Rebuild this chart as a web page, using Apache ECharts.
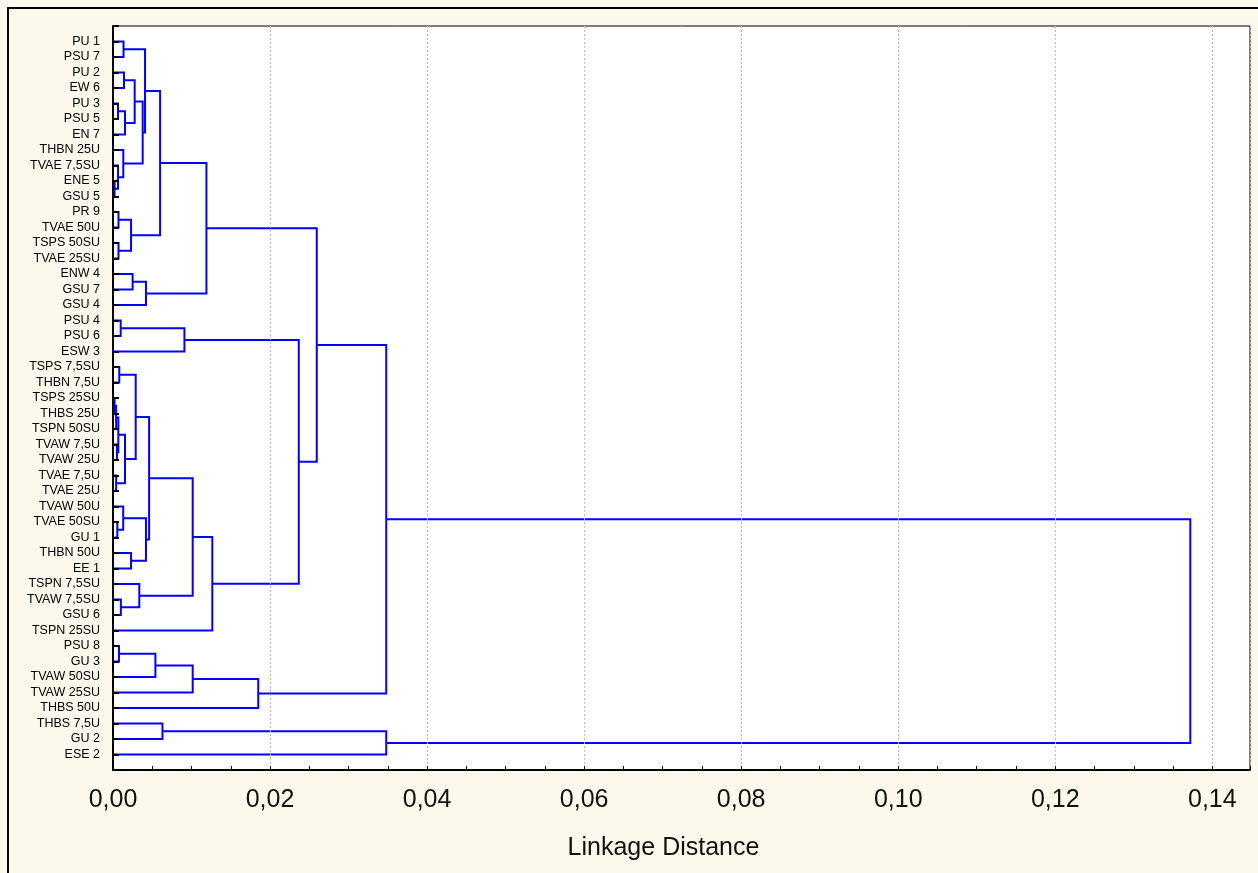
<!DOCTYPE html>
<html>
<head>
<meta charset="utf-8">
<script src="https://cdn.jsdelivr.net/npm/echarts@6/dist/echarts.min.js"></script>
<style>
  html, body { margin: 0; padding: 0; background: #fdf8ec; }
  #chart { width: 1258px; height: 873px; }
</style>
</head>
<body>
<div id="chart"></div>
<script>
// leaves, top to bottom
const leafLabels = [
  'PU 1', 'PSU 7', 'PU 2', 'EW 6', 'PU 3', 'PSU 5', 'EN 7', 'THBN 25U',
  'TVAE 7,5SU', 'ENE 5', 'GSU 5', 'PR 9', 'TVAE 50U', 'TSPS 50SU', 'TVAE 25SU',
  'ENW 4', 'GSU 7', 'GSU 4', 'PSU 4', 'PSU 6', 'ESW 3', 'TSPS 7,5SU',
  'THBN 7,5U', 'TSPS 25SU', 'THBS 25U', 'TSPN 50SU', 'TVAW 7,5U', 'TVAW 25U',
  'TVAE 7,5U', 'TVAE 25U', 'TVAW 50U', 'TVAE 50SU', 'GU 1', 'THBN 50U', 'EE 1',
  'TSPN 7,5SU', 'TVAW 7,5SU', 'GSU 6', 'TSPN 25SU', 'PSU 8', 'GU 3',
  'TVAW 50SU', 'TVAW 25SU', 'THBS 50U', 'THBS 7,5U', 'GU 2', 'ESE 2'
]

// [child a, child b, linkage distance]; new node ids start at 47
const merges = [
  [0, 1, 0.00134],   // 47
  [2, 3, 0.0014],    // 48
  [4, 5, 0.00064],   // 49
  [49, 6, 0.00153],  // 50
  [48, 50, 0.00276], // 51
  [9, 10, 0.0002],   // 52
  [8, 52, 0.00064],  // 53
  [7, 53, 0.00131],  // 54
  [51, 54, 0.00378], // 55
  [47, 55, 0.00408], // 56
  [11, 12, 0.0007],  // 57
  [13, 14, 0.0007],  // 58
  [57, 58, 0.0023],  // 59
  [56, 59, 0.006],   // 60
  [15, 16, 0.0025],  // 61
  [61, 17, 0.0042],  // 62
  [60, 62, 0.0119],  // 63
  [18, 19, 0.00098], // 64
  [64, 20, 0.0091],  // 65
  [21, 22, 0.0008],  // 66
  [23, 24, 0.0002],  // 67
  [67, 25, 0.0004],  // 68
  [26, 27, 0.0005],  // 69
  [68, 69, 0.00068], // 70
  [28, 29, 0.0004],  // 71
  [70, 71, 0.00153], // 72
  [66, 72, 0.00289], // 73
  [31, 32, 0.00055], // 74
  [30, 74, 0.0013],  // 75
  [33, 34, 0.0023],  // 76
  [75, 76, 0.0042],  // 77
  [73, 77, 0.0046],  // 78
  [36, 37, 0.001],   // 79
  [35, 79, 0.00335], // 80
  [78, 80, 0.01015], // 81
  [81, 38, 0.01265], // 82
  [65, 82, 0.02366], // 83
  [63, 83, 0.02595], // 84
  [39, 40, 0.00076], // 85
  [85, 41, 0.0054],  // 86
  [86, 42, 0.01015], // 87
  [87, 43, 0.0185],  // 88
  [84, 88, 0.0348],  // 89
  [44, 45, 0.0063],  // 90
  [90, 46, 0.0348],  // 91
  [89, 91, 0.1372]   // 92
]

const xMax = 0.1448
const xStep = 0.02

// node positions: leaves sit at their row index, merged nodes between their children
const nodeY = leafLabels.map((_, i) => i)
const nodeH = leafLabels.map(() => 0)
const links = []
merges.forEach(([a, b, h]) => {
  links.push({
    coords: [
      [nodeH[a], nodeY[a]],
      [h, nodeY[a]],
      [h, nodeY[b]],
      [nodeH[b], nodeY[b]]
    ]
  })
  nodeY.push((nodeY[a] + nodeY[b]) / 2)
  nodeH.push(h)
})

const chart = echarts.init(document.getElementById('chart'))

const option = {
  backgroundColor: '#fdf8ec',
  animation: false,
  graphic: [
    {
      type: 'rect',
      shape: { x: 8, y: 8, width: 1280, height: 900 },
      style: { fill: 'none', stroke: '#000', lineWidth: 2 },
      z: -10
    }
  ],
  grid: {
    left: 113,
    top: 26,
    right: 8,
    bottom: 103,
    show: true,
    backgroundColor: '#ffffff',
    borderColor: '#000',
    borderWidth: 1
  },
  xAxis: {
    type: 'value',
    min: 0,
    max: xMax,
    interval: xStep,
    z: 5,
    name: 'Linkage Distance',
    nameLocation: 'middle',
    nameGap: 66,
    nameTextStyle: {
      fontFamily: 'Liberation Sans',
      fontSize: 25,
      color: '#111',
      padding: [0, 36, 0, 0]
    },
    axisLine: { onZero: false, lineStyle: { color: '#000', width: 2 } },
    axisTick: { inside: true, length: 4, lineStyle: { color: '#000', width: 1 } },
    minorTick: { show: true, splitNumber: 4, length: 4, lineStyle: { color: '#000', width: 1 } },
    axisLabel: {
      margin: 18,
      fontFamily: 'Liberation Sans',
      fontSize: 25,
      color: '#111',
      showMaxLabel: false,
      formatter: v => v.toFixed(2).replace('.', ',')
    },
    splitLine: {
      show: true,
      lineStyle: { color: '#bdbdbd', width: 1, type: [2, 2] }
    }
  },
  yAxis: {
    type: 'value',
    inverse: true,
    min: -1,
    max: leafLabels.length,
    interval: 1,
    z: 5,
    axisLine: { onZero: false, lineStyle: { color: '#000', width: 2 } },
    axisTick: { inside: true, length: 6, lineStyle: { color: '#000', width: 2 } },
    axisLabel: {
      margin: 13,
      fontFamily: 'Liberation Sans',
      fontSize: 12.5,
      color: '#000',
      formatter: v => leafLabels[v] || ''
    },
    splitLine: { show: false }
  },
  series: [
    {
      type: 'lines',
      coordinateSystem: 'cartesian2d',
      polyline: true,
      silent: true,
      z: 2,
      lineStyle: { color: '#0000ff', width: 2, opacity: 1 },
      data: links
    }
  ]
}

chart.setOption(option)
</script>
</body>
</html>
